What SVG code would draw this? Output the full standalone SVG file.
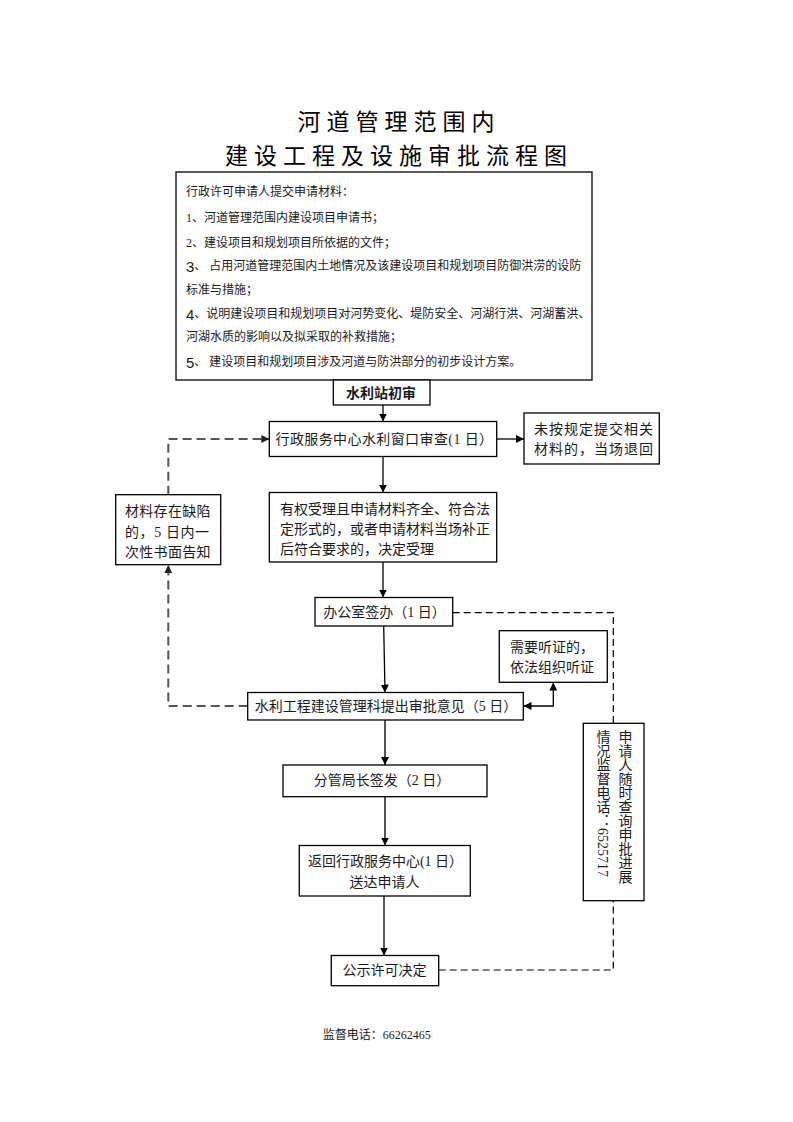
<svg xmlns="http://www.w3.org/2000/svg" width="793" height="1122" viewBox="0 0 793 1122">
<style>
.bg{fill:#fff}
.box{fill:#fff;stroke:#000;stroke-width:1.3}
.t{font-family:"Liberation Serif","Noto Sans CJK SC",serif;font-size:14px;fill:#1a1a1a;dominant-baseline:central}
.m{font-family:"Liberation Serif","Noto Sans CJK SC",serif;font-size:12px;fill:#1a1a1a;dominant-baseline:central}
.big{font-family:"Liberation Sans","Noto Sans CJK SC",sans-serif;font-size:15px}
.c{text-anchor:middle}
.b{font-family:"Noto Sans CJK SC",sans-serif;font-weight:bold}
.v{writing-mode:vertical-rl}
.title{font-family:"Noto Sans CJK SC",sans-serif;font-size:23px;letter-spacing:6px;text-anchor:middle;dominant-baseline:central;fill:#000}
.ln{fill:none;stroke:#000;stroke-width:1.3}
.g{fill:none;stroke:#555;stroke-width:2}
.gd{fill:none;stroke:#555;stroke-width:2;stroke-dasharray:9 5}
.kd{fill:none;stroke:#000;stroke-width:1.2;stroke-dasharray:7 4}
</style>
<defs>
<marker id="ah" viewBox="0 0 10 10" refX="10" refY="5" markerUnits="userSpaceOnUse" markerWidth="8" markerHeight="8" orient="auto-start-reverse">
<path d="M0,0 L10,5 L0,10 z" fill="#000"/>
</marker>
<marker id="ahg" viewBox="0 0 10 10" refX="10" refY="5" markerUnits="userSpaceOnUse" markerWidth="8" markerHeight="8" orient="auto">
<path d="M0,0 L10,5 L0,10 z" fill="#222"/>
</marker>
</defs>
<rect class="bg" x="0" y="0" width="793" height="1122"/>

<g id="title">
<text class="title" x="399" y="120">河道管理范围内</text>
<text class="title" x="399" y="153.5">建设工程及设施审批流程图</text>
</g>

<g id="connectors">
<line class="ln" x1="383" y1="405" x2="383" y2="421.5" marker-end="url(#ah)"/>
<line class="ln" x1="497" y1="439" x2="524" y2="439" marker-end="url(#ah)"/>
<line class="ln" x1="383" y1="456.5" x2="383" y2="492.5" marker-end="url(#ah)"/>
<line class="ln" x1="383" y1="562" x2="383" y2="597.5" marker-end="url(#ah)"/>
<line class="ln" x1="383.7" y1="626" x2="385" y2="692.5" marker-end="url(#ah)"/>
<line class="g" x1="385" y1="720" x2="385" y2="765" marker-end="url(#ah)"/>
<line class="g" x1="385" y1="797" x2="385" y2="845.5" marker-end="url(#ah)"/>
<line class="ln" x1="384" y1="896" x2="384" y2="955.5" marker-end="url(#ah)"/>
<path class="gd" d="M247.7,706 H168.3 V565" marker-end="url(#ahg)"/>
<path class="gd" d="M168.3,494.7 V439 H269.3" marker-end="url(#ahg)"/>
<path class="ln" d="M523.5,706 H553.3 V682.5" marker-start="url(#ah)" marker-end="url(#ah)"/>
<path class="kd" d="M452.7,612.7 H613.3 V723.3"/>
<path class="kd" d="M438.7,970 H613.3 V900.7"/>
</g>

<g id="materials">
<rect class="box" x="176" y="172" width="416" height="208"/>
<text class="m" x="186" y="191.7">行政许可申请人提交申请材料：</text>
<text class="m" x="186" y="218.3">1、河道管理范围内建设项目申请书；</text>
<text class="m" x="186" y="242.7">2、建设项目和规划项目所依据的文件；</text>
<text class="m" x="186" y="265.7"><tspan class="big">3</tspan>、 占用河道管理范围内土地情况及该建设项目和规划项目防御洪涝的设防</text>
<text class="m" x="186" y="290">标准与措施；</text>
<text class="m" x="186" y="314.3"><tspan class="big">4</tspan>、说明建设项目和规划项目对河势变化、堤防安全、河湖行洪、河湖蓄洪、</text>
<text class="m" x="186" y="337.3">河湖水质的影响以及拟采取的补救措施；</text>
<text class="m" x="186" y="361.7"><tspan class="big">5</tspan>、 建设项目和规划项目涉及河道与防洪部分的初步设计方案。</text>
</g>

<g id="n-initial">
<rect class="box" x="333.3" y="380" width="96.7" height="25"/>
<text class="t c b" x="381" y="391.5">水利站初审</text>
</g>

<g id="n-window">
<rect class="box" x="269.3" y="421.5" width="227.4" height="35"/>
<text class="t c" x="384.5" y="439" letter-spacing="0.4">行政服务中心水利窗口审查(1 日）</text>
</g>

<g id="n-return">
<rect class="box" x="524" y="413" width="135.3" height="51"/>
<text class="t" x="534" y="429.7" letter-spacing="1">未按规定提交相关</text>
<text class="t" x="534" y="449" letter-spacing="1">材料的，当场退回</text>
</g>

<g id="n-defect">
<rect class="box" x="115.7" y="494.7" width="105" height="70"/>
<text class="t" x="125" y="511.3" letter-spacing="0.3">材料存在缺陷</text>
<text class="t" x="125" y="532" letter-spacing="0.6">的，5 日内一</text>
<text class="t" x="125" y="552" letter-spacing="0.3">次性书面告知</text>
</g>

<g id="n-accept">
<rect class="box" x="269.3" y="492.5" width="227.4" height="69.5"/>
<text class="t" x="280" y="509">有权受理且申请材料齐全、符合法</text>
<text class="t" x="280" y="529.7">定形式的，或者申请材料当场补正</text>
<text class="t" x="280" y="549.7">后符合要求的，决定受理</text>
</g>

<g id="n-office">
<rect class="box" x="315" y="597.5" width="137.7" height="28.5"/>
<text class="t c" x="384.5" y="612.7">办公室签办（1 日）</text>
</g>

<g id="n-hearing">
<rect class="box" x="499.3" y="630.7" width="108" height="51.6"/>
<text class="t" x="510" y="647.3">需要听证的，</text>
<text class="t" x="510" y="667.3">依法组织听证</text>
</g>

<g id="n-opinion">
<rect class="box" x="247.7" y="692.5" width="275.6" height="27.5"/>
<text class="t c" x="386" y="706.5">水利工程建设管理科提出审批意见（5 日）</text>
</g>

<g id="n-query">
<rect class="box" x="583.3" y="723.3" width="60.7" height="177.4"/>
<text class="t v" x="624" y="730">申请人随时查询申批进展</text>
<text class="t v" x="602" y="730">情况监督电话：6525717</text>
</g>

<g id="n-sign">
<rect class="box" x="283" y="765" width="204" height="31.7"/>
<text class="t c" x="382" y="780.5">分管局长签发（2 日）</text>
</g>

<g id="n-deliver">
<rect class="box" x="299.3" y="845.5" width="171" height="50.5"/>
<text class="t c" x="385.5" y="861.7">返回行政服务中心(1 日）</text>
<text class="t c" x="384.5" y="882.7">送达申请人</text>
</g>

<g id="n-publish">
<rect class="box" x="331.3" y="955.5" width="107.4" height="30.2"/>
<text class="t c" x="384.5" y="970.5">公示许可决定</text>
</g>

<g id="footer">
<text class="m" x="322.7" y="1035">监督电话：66262465</text>
</g>
</svg>
